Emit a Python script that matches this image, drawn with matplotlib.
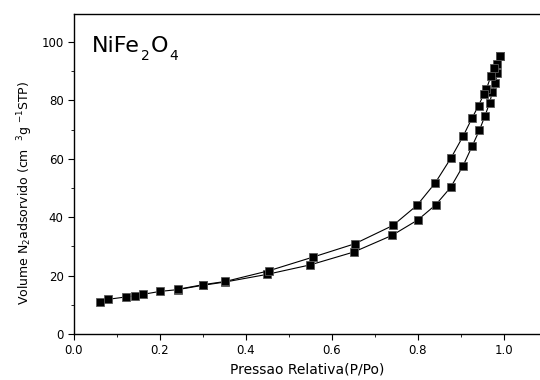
import numpy as np
import matplotlib
matplotlib.use("Agg")
import matplotlib.pyplot as plt
from matplotlib.ticker import MultipleLocator
from matplotlib.transforms import IdentityTransform

plt.rcParams["font.family"] = ["DejaVu Sans"]

# adsorption branch (lower)
p_ads = [0.060, 0.080, 0.121, 0.141, 0.161, 0.200, 0.241, 0.300, 0.351, 0.448,
         0.550, 0.651, 0.740, 0.800, 0.841, 0.876, 0.905, 0.926, 0.943, 0.956,
         0.967, 0.973, 0.980, 0.985, 0.991]
v_ads = [11.1, 11.9, 12.7, 13.1, 13.6, 14.6, 15.2, 16.7, 17.8, 20.4,
         23.7, 28.1, 33.8, 39.1, 44.2, 50.2, 57.6, 64.3, 69.8, 74.7,
         79.3, 82.8, 86.1, 89.5, 95.4]

# desorption branch (upper)
p_des = [0.991, 0.984, 0.977, 0.970, 0.959, 0.953, 0.941, 0.926, 0.906, 0.877,
         0.840, 0.798, 0.742, 0.653, 0.557, 0.454, 0.352, 0.300, 0.241]
v_des = [95.4, 92.5, 91.0, 88.4, 83.8, 82.1, 78.2, 74.0, 68.0, 60.3,
         51.7, 44.1, 37.2, 30.9, 26.4, 21.7, 18.0, 16.9, 15.3]

fig = plt.figure(figsize=(5.4, 3.8), dpi=100)
ax = fig.add_axes([0.137, 0.121, 0.863, 0.842])

style = dict(color="black", lw=0.8, marker="s", markersize=5.8,
             markerfacecolor="black", markeredgecolor="0.35", markeredgewidth=0.6)
ax.plot(p_ads, v_ads, **style)
ax.plot(p_des, v_des, **style)

ax.set_xlim(0, 1.084)
ax.set_ylim(0, 109.6)
ax.xaxis.set_major_locator(MultipleLocator(0.2))
ax.xaxis.set_minor_locator(MultipleLocator(0.1))
ax.yaxis.set_major_locator(MultipleLocator(20))
ax.yaxis.set_minor_locator(MultipleLocator(10))
ax.tick_params(which="both", direction="out", top=False, right=False, labelsize=8.5)
ax.tick_params(which="major", length=4)
ax.tick_params(which="minor", length=2.5)
ax.spines["right"].set_visible(False)
for s in ["left", "bottom", "top"]:
    ax.spines[s].set_linewidth(1.0)

ax.set_xlabel("Pressao Relativa(P/Po)", fontsize=10)
ax.set_ylabel(r"Volume N$_{\mathregular{2}}$adsorvido (cm  $^{\mathregular{3}}$g $^{\mathregular{-1}}$STP)",
              fontsize=9)
ax.yaxis.set_label_coords(-0.084, 0.44)

# sample name, written piece by piece so the subscripts sit low like the original
renderer = fig.canvas.get_renderer()
x_px, base_px = 92, 380 - 52
pieces = [("NiFe", 16, 0), ("2", 10, -8), ("O", 16, 0), ("4", 10, -8)]
for txt, size, dy in pieces:
    t = fig.text(x_px, base_px + dy, txt, fontsize=size, transform=IdentityTransform(),
                 va="baseline", ha="left")
    x_px = t.get_window_extent(renderer).x1 + 1

fig.savefig("out.png", dpi=100)
